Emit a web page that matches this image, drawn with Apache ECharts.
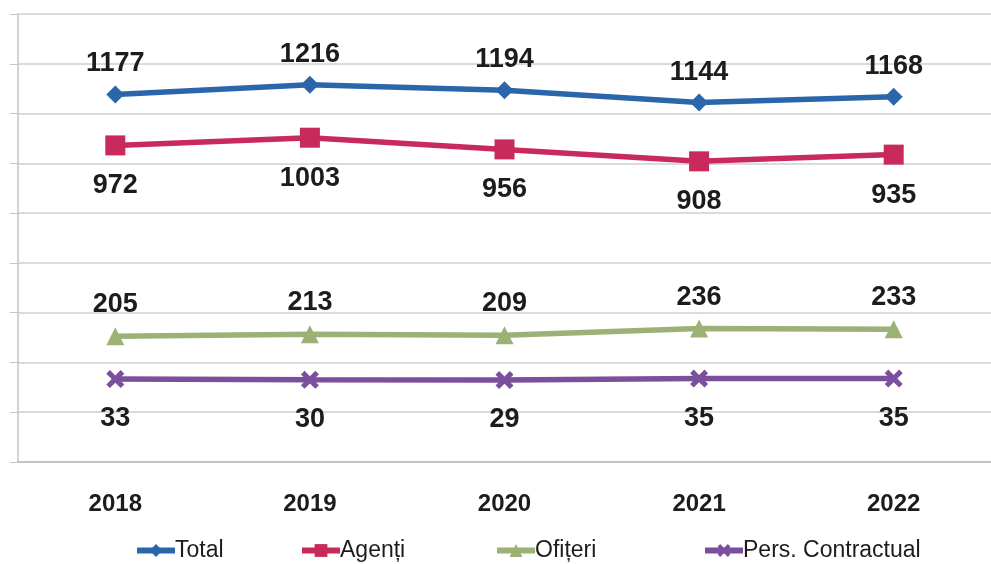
<!DOCTYPE html>
<html>
<head>
<meta charset="utf-8">
<script src="https://cdn.jsdelivr.net/npm/echarts@6/dist/echarts.min.js"></script>
<style>
  html, body { margin: 0; padding: 0; background: #fff; }
  #chart { width: 991px; height: 564px; }
</style>
</head>
<body>
<div id="chart"></div>
<script>
// date
var years = ['2018', '2019', '2020', '2021', '2022'];
var total = [1177, 1216, 1194, 1144, 1168];
var agenti = [972, 1003, 956, 908, 935];
var ofiteri = [205, 213, 209, 236, 233];
var contractual = [33, 30, 29, 35, 35];

var seriesNames = ['Total', 'Agenți', 'Ofițeri', 'Pers. Contractual'];
var legendLeft = [129, 294, 489, 697];

var labelFont = 'Liberation Sans, Arial, sans-serif';
// X marker, drawn as a filled shape
var crossPath = 'path://M0,2L2,0L5,3L8,0L10,2L7,5L10,8L8,10L5,7L2,10L0,8L3,5Z';

function makeSeries(name, data, color, symbol, size, pos, dist) {
  return {
    name: name,
    type: 'line',
    data: data,
    color: color,
    symbol: symbol,
    symbolSize: size,
    lineStyle: { width: 5.5, color: color },
    itemStyle: { color: color },
    label: {
      show: true,
      position: pos,
      distance: dist,
      color: '#1c1c1c',
      fontFamily: labelFont,
      fontWeight: 'bold',
      fontSize: 27
    }
  };
}

// one legend per entry so each can sit where the original has it
var legends = seriesNames.map(function (n, i) {
  return {
    data: [n],
    left: legendLeft[i],
    top: 534,
    itemWidth: 38,
    itemHeight: 16,
    lineStyle: { width: 6 },
    textStyle: {
      fontFamily: labelFont,
      fontSize: 23,
      color: '#1c1c1c',
      padding: [0, 0, 0, -5]
    }
  };
});

var option = {
  animation: false,
  backgroundColor: '#fff',
  grid: {
    left: 18,
    right: -9,
    top: 14,
    bottom: 102
  },
  legend: legends,
  xAxis: {
    type: 'category',
    data: years,
    axisLine: { onZero: false, lineStyle: { color: '#bdbdbd', width: 1.5 } },
    axisTick: { show: false },
    axisLabel: {
      margin: 30,
      color: '#1c1c1c',
      fontFamily: labelFont,
      fontWeight: 'bold',
      fontSize: 24
    }
  },
  yAxis: {
    type: 'value',
    min: -300,
    max: 1500,
    interval: 200,
    axisLine: { show: true, lineStyle: { color: '#c4c4c4', width: 1.5 } },
    axisTick: { show: true, length: 8, lineStyle: { color: '#c4c4c4' } },
    axisLabel: { show: false },
    splitLine: { lineStyle: { color: '#cfcfcf', width: 1.5 } }
  },
  series: [
    makeSeries(seriesNames[0], total, '#2b66ab', 'diamond', 18, 'top', 8),
    makeSeries(seriesNames[1], agenti, '#c72a5b', 'rect', 20, 'bottom', 17),
    makeSeries(seriesNames[2], ofiteri, '#9bb176', 'triangle', 18, 'top', 9),
    makeSeries(seriesNames[3], contractual, '#7a4f9c', crossPath, 18, 'bottom', 17)
  ]
};

var myChart = echarts.init(document.getElementById('chart'));
myChart.setOption(option, true);
</script>
</body>
</html>
